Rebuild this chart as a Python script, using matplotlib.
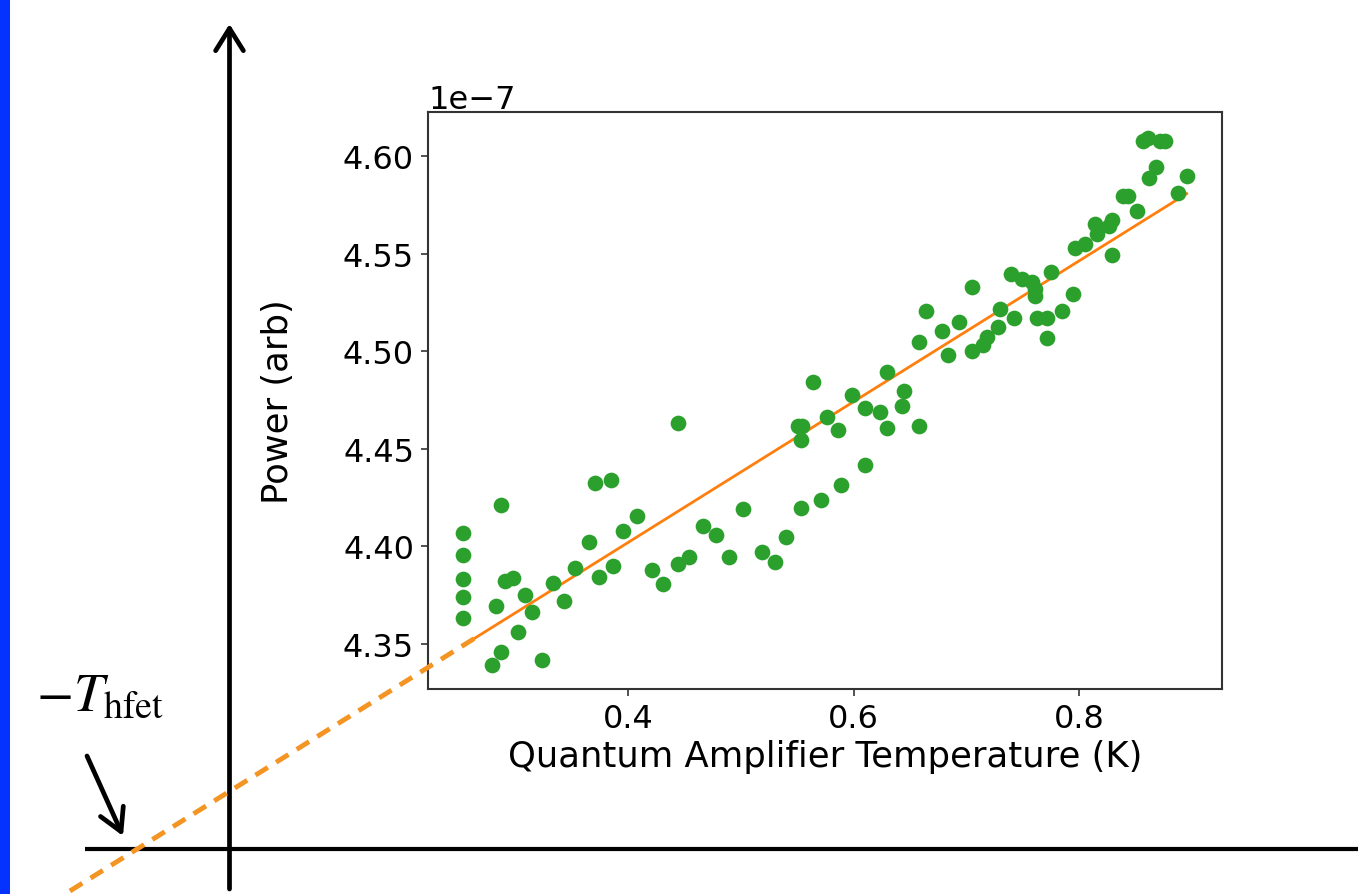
import numpy as np
import matplotlib
matplotlib.use('Agg')
import matplotlib.pyplot as plt
from matplotlib.patches import Rectangle

plt.rcParams['mathtext.fontset'] = 'stix'

# amplifier temperature (K) and measured power (units of 1e-7, arb)
temp = [0.2537, 0.2537, 0.2537, 0.2537, 0.2537, 0.2794, 0.2829, 0.2871, 0.2871, 0.2909,
        0.2977, 0.3027, 0.3086, 0.3146, 0.3240, 0.3338, 0.3432, 0.3533, 0.3651, 0.3707,
        0.3746, 0.3847, 0.3864, 0.3958, 0.4077, 0.4216, 0.4313, 0.4446, 0.4446, 0.4544,
        0.4662, 0.4780, 0.4899, 0.5023, 0.5186, 0.5304, 0.5401, 0.5534, 0.5510, 0.5540,
        0.5534, 0.5644, 0.5709, 0.5768, 0.5865, 0.5887, 0.5984, 0.6102, 0.6102, 0.6235,
        0.6294, 0.6294, 0.6427, 0.6448, 0.6584, 0.6584, 0.6643, 0.6782, 0.6841, 0.6936,
        0.7051, 0.7054, 0.7146, 0.7187, 0.7285, 0.7299, 0.7397, 0.7424, 0.7492, 0.7580,
        0.7610, 0.7613, 0.7630, 0.7713, 0.7713, 0.7749, 0.7852, 0.7944, 0.7965, 0.8053,
        0.8142, 0.8157, 0.8269, 0.8290, 0.8295, 0.8393, 0.8430, 0.8512, 0.8570, 0.8615,
        0.8624, 0.8683, 0.8718, 0.8763, 0.8881, 0.8955]
power = [4.4069, 4.3956, 4.3833, 4.3741, 4.3633, 4.3394, 4.3696, 4.4214, 4.3461, 4.3821,
         4.3836, 4.3563, 4.3753, 4.3665, 4.3418, 4.3811, 4.3722, 4.3888, 4.4021, 4.4325,
         4.3843, 4.4339, 4.3901, 4.4079, 4.4157, 4.3878, 4.3809, 4.4631, 4.3910, 4.3944,
         4.4103, 4.4057, 4.3944, 4.4192, 4.3970, 4.3922, 4.4047, 4.4195, 4.4618, 4.4618,
         4.4547, 4.4844, 4.4238, 4.4665, 4.4598, 4.4315, 4.4777, 4.4709, 4.4417, 4.4687,
         4.4607, 4.4892, 4.4721, 4.4798, 4.4618, 4.5049, 4.5204, 4.5102, 4.4981, 4.5148,
         4.5327, 4.5003, 4.5032, 4.5071, 4.5122, 4.5216, 4.5395, 4.5170, 4.5370, 4.5353,
         4.5319, 4.5281, 4.5169, 4.5169, 4.5069, 4.5407, 4.5204, 4.5293, 4.5529, 4.5549,
         4.5652, 4.5600, 4.5643, 4.5674, 4.5494, 4.5797, 4.5797, 4.5720, 4.6078, 4.6091,
         4.5887, 4.5945, 4.6078, 4.6078, 4.5810, 4.5899]

t = np.array(temp)
p = np.array(power) * 1e-7

# linear fit, and how far left the dashed extrapolation runs
slope, icept = np.polyfit(t, p, 1)
x_extrap = [-0.095, 0.265]

fig = plt.figure(figsize=(13.58, 8.95), dpi=100)

# slide overlay in pixel units
over = fig.add_axes([0, 0, 1, 1])
over.set_xlim(0, 1358)
over.set_ylim(895, 0)
over.axis('off')
over.add_patch(Rectangle((0, 0), 10, 895, color='#0433ff', lw=0))
over.plot([85, 1358], [849.5, 849.5], color='black', lw=3, solid_capstyle='butt')
over.annotate('', xy=(229.5, 25), xytext=(229.5, 890),
              arrowprops=dict(arrowstyle='->,head_length=16,head_width=10', mutation_scale=1,
                              lw=3.4, color='black', shrinkA=0, shrinkB=0))
over.annotate('', xy=(123, 837), xytext=(87, 757),
              arrowprops=dict(arrowstyle='->,head_length=16,head_width=9', mutation_scale=1,
                              lw=3.4, color='black', shrinkA=0, shrinkB=0))
over.text(36, 711, r'$-T_{\rm hfet}$', fontsize=39, ha='left', va='baseline')

# the actual data plot
ax = fig.add_axes([428 / 1358, 205 / 895, 794 / 1358, 577 / 895])
ax.plot(t, p, 'o', color='#2ca02c', markersize=11.3, markeredgewidth=0, zorder=3)
ax.plot([t.min(), t.max()], [slope * t.min() + icept, slope * t.max() + icept],
        color='#ff7f0e', lw=2, zorder=2)
xe = np.array(x_extrap)
ax.plot(xe, slope * xe + icept, color='#f39423', lw=3.5, dashes=(3.0, 2.0),
        clip_on=False, zorder=4)

ax.set_xlim(0.2226, 0.9268)
ax.set_ylim(4.3269e-7, 4.6225e-7)
ax.set_xticks([0.4, 0.6, 0.8])
ax.set_yticks(np.array([4.35, 4.40, 4.45, 4.50, 4.55, 4.60]) * 1e-7)
ax.tick_params(labelsize=23, length=5, width=1.2, pad=5, color='#333333')
ax.yaxis.get_offset_text().set_fontsize(23)
for s in ax.spines.values():
    s.set_linewidth(1.5)
    s.set_color('#333333')
ax.set_xlabel('Quantum Amplifier Temperature (K)', fontsize=25.5)
ax.set_ylabel('Power (arb)', fontsize=25.5)
ax.yaxis.set_label_coords(-0.168, 0.5)

fig.savefig('out.png', dpi=100)
